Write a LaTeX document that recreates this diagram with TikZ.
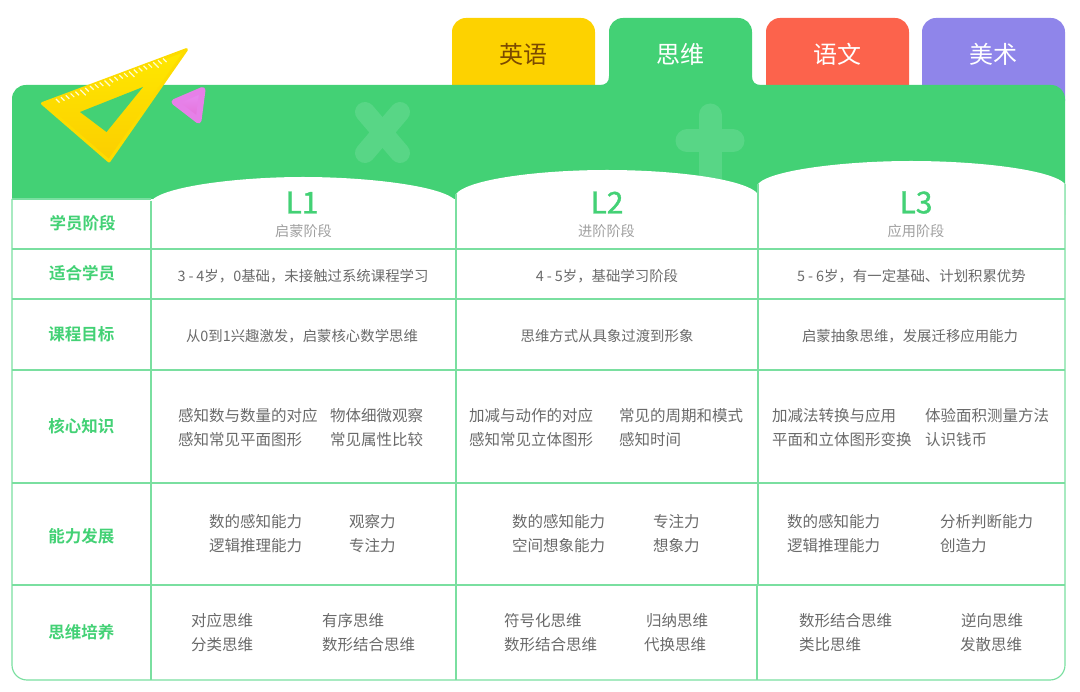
\documentclass[tikz,border=0pt]{standalone}
\usepackage{fontspec}
\setmainfont{Noto Sans CJK SC}[BoldFont={* Bold}]
\usepackage{xcolor}
\usetikzlibrary{calc, positioning}
\definecolor{mainGreen}{HTML}{43D175}
\definecolor{lineGreen}{HTML}{7ADFA0}
\definecolor{markGreen}{HTML}{58D686}
\definecolor{tabYellow}{HTML}{FDD200}
\definecolor{tabRed}{HTML}{FC634C}
\definecolor{tabPurple}{HTML}{8F85EA}
\definecolor{tabBrown}{HTML}{7B4A00}
\definecolor{bodyGray}{HTML}{6A6A6A}
\definecolor{subGray}{HTML}{A0A0A0}
\definecolor{rulerTop}{HTML}{FFE800}
\definecolor{rulerLow}{HTML}{FBCE00}
\definecolor{rulerMid}{HTML}{FDDC00}
\definecolor{tickYellow}{HTML}{FFFBD0}
\definecolor{pinkTop}{HTML}{E88EF4}
\definecolor{pinkLow}{HTML}{E46ED6}
\definecolor{pinkMid}{HTML}{E680E8}
\newcommand{\dashgap}{\kern3pt-\kern3pt}
\tikzset{
  tabbox/.style={rounded corners=14pt},
  tabtext/.style={font=\fontsize{24}{28}\selectfont, inner sep=0pt},
  rowtitle/.style={font=\bfseries\fontsize{16.5}{20}\selectfont, text=mainGreen, inner sep=0pt},
  leveltitle/.style={font=\addfontfeature{FakeBold=1.2}\fontsize{30}{34}\selectfont, text=mainGreen, inner sep=0pt},
  levelsub/.style={font=\fontsize{14.2}{18}\selectfont, text=subGray, inner sep=0pt},
  celltext/.style={font=\fontsize{14.4}{18}\selectfont, text=bodyGray, inner sep=0pt, yshift=-0.7pt},
  itemtext/.style={celltext, font=\fontsize{15.5}{18}\selectfont, anchor=west},
  gridline/.style={draw=lineGreen, line width=1.15pt}
}
\begin{document}
\begin{tikzpicture}[x=1pt, y=-1pt]
\useasboundingbox (0,0) rectangle (1080,692);

% tabs
\fill[tabYellow, tabbox] (452,115) rectangle (595,18);
\fill[tabRed, tabbox] (766,115) rectangle (909,18);
\fill[tabPurple, tabbox] (922,115) rectangle (1065,18);

% green header with the raised tab
\fill[mainGreen] (12,215) -- (12,99) .. controls (12,91) and (18,85) .. (26,85)
  -- (600,85) .. controls (606,85) and (609,82) .. (609,76) -- (609,32)
  .. controls (609,24) and (615,18) .. (623,18) -- (738,18)
  .. controls (746,18) and (752,24) .. (752,32) -- (752,76)
  .. controls (752,82) and (755,85) .. (761,85) -- (1051,85)
  .. controls (1059,85) and (1065,91) .. (1065,99) -- (1065,215) -- cycle;

\node (english) [tabtext, text=tabBrown] at (523,54) {英语};
\node (thinking) [tabtext, text=white] at (680.5,54) {思维};
\node (chinese) [tabtext, text=white] at (837.5,54) {语文};
\node (art) [tabtext, text=white] at (993,54) {美术};

% marks in the header
\draw[markGreen, line width=20pt, line cap=round] (365,112) -- (400,153) (400,112) -- (365,153);
\draw[markGreen, line width=23pt, line cap=round] (687,141) -- (733,141) (710,115) -- (710,180);

% ruler
\draw[draw=rulerMid, line width=3pt, line join=round, top color=rulerTop, bottom color=rulerLow]
  (42.5,103.5) -- (186.5,49.6) -- (109,161) -- cycle;
\fill[mainGreen] (80,112) -- (143,87) -- (106.5,132) -- cycle;
\coordinate (tickA) at (56,99);
\coordinate (tickB) at (163,58.5);
\foreach \i in {0,...,22}{
  \pgfmathsetmacro{\ticklen}{(mod(\i,5)==0 && \i>0) ? 5.5 : 3.6}
  \draw[tickYellow, line width=1.2pt] ($(tickA)!\i/22!(tickB)$) -- ++(\ticklen,\ticklen);
}

% small triangle
\draw[draw=pinkMid, line width=6pt, line join=round, top color=pinkTop, bottom color=pinkLow]
  (174.5,102) -- (202.5,90) -- (198.5,120.5) -- cycle;

% table body
\fill[white] (12,199) rectangle (1065,249);
\fill[white] (151,249) -- (151,201)
  .. controls (164,186) and (240,177) .. (303,177) .. controls (368,177) and (444,186) .. (456,201) -- (456,249);
\fill[white] (456,249) -- (456,194)
  .. controls (468,179) and (540,170) .. (607,170) .. controls (675,170) and (746,179) .. (758,194) -- (758,249);
\fill[white] (758,249) -- (758,184)
  .. controls (770,170) and (845,161) .. (911,161) .. controls (980,161) and (1053,170) .. (1065,184) -- (1065,249);
\draw[gridline, rounded corners=15pt] (12,199) -- (12,680) -- (1065,680) -- (1065,184);
\draw[gridline] (12,199) -- (151,199);
\foreach \y in {249,299,370,483,585}{
  \draw[gridline] (12,\y) -- (1065,\y);
}
\draw[gridline] (151,201) -- (151,680);
\draw[gridline] (456,194) -- (456,680);
\draw[gridline] (758,184) -- (758,585) (757,585) -- (757,680);

% left column
\node (stage) [rowtitle] at (82.5,223) {学员阶段};
\node (fit) [rowtitle] at (82,273) {适合学员};
\node (goal) [rowtitle] at (81.5,334) {课程目标};
\node (know) [rowtitle] at (81.5,426) {核心知识};
\node (ability) [rowtitle] at (81.5,536) {能力发展};
\node (train) [rowtitle] at (81.5,632) {思维培养};

% level heads
\node (L1) [leveltitle] at (302,202.5) {L1};
\node (L1sub) [levelsub] at (303.5,231) {启蒙阶段};
\node (L2) [leveltitle] at (607,202.5) {L2};
\node (L2sub) [levelsub] at (606.5,231) {进阶阶段};
\node (L3) [leveltitle] at (916,202.5) {L3};
\node (L3sub) [levelsub] at (916,231) {应用阶段};

% single line rows
\node (fitA) [celltext] at (303,275) {3\dashgap 4岁，0基础，未接触过系统课程学习};
\node (fitB) [celltext] at (607,275) {4\dashgap 5岁，基础学习阶段};
\node (fitC) [celltext] at (911.5,275) {5\dashgap 6岁，有一定基础、计划积累优势};
\node (goalA) [celltext] at (302,335) {从0到1兴趣激发，启蒙核心数学思维};
\node (goalB) [celltext] at (607,335) {思维方式从具象过渡到形象};
\node (goalC) [celltext] at (910,335) {启蒙抽象思维，发展迁移应用能力};

% core knowledge
\node (knowA) [itemtext] at (178,415) {感知数与数量的对应};
\node (knowB) [itemtext] at (330,415) {物体细微观察};
\node (knowC) [itemtext] at (178,439) {感知常见平面图形};
\node (knowD) [itemtext] at (330,439) {常见属性比较};
\node (knowE) [itemtext] at (469,415) {加减与动作的对应};
\node (knowF) [itemtext] at (619,415) {常见的周期和模式};
\node (knowG) [itemtext] at (469,439) {感知常见立体图形};
\node (knowH) [itemtext] at (619,439) {感知时间};
\node (knowI) [itemtext] at (772,415) {加减法转换与应用};
\node (knowJ) [itemtext] at (925,415) {体验面积测量方法};
\node (knowK) [itemtext] at (772,439) {平面和立体图形变换};
\node (knowL) [itemtext] at (925,439) {认识钱币};

% ability
\node (abilA) [itemtext] at (209,521) {数的感知能力};
\node (abilB) [itemtext] at (349,521) {观察力};
\node (abilC) [itemtext] at (209,545) {逻辑推理能力};
\node (abilD) [itemtext] at (349,545) {专注力};
\node (abilE) [itemtext] at (512,521) {数的感知能力};
\node (abilF) [itemtext] at (653,521) {专注力};
\node (abilG) [itemtext] at (512,545) {空间想象能力};
\node (abilH) [itemtext] at (653,545) {想象力};
\node (abilI) [itemtext] at (787,521) {数的感知能力};
\node (abilJ) [itemtext] at (940,521) {分析判断能力};
\node (abilK) [itemtext] at (787,545) {逻辑推理能力};
\node (abilL) [itemtext] at (940,545) {创造力};

% thinking
\node (trainA) [itemtext] at (191,620) {对应思维};
\node (trainB) [itemtext] at (322,620) {有序思维};
\node (trainC) [itemtext] at (191,644) {分类思维};
\node (trainD) [itemtext] at (322,644) {数形结合思维};
\node (trainE) [itemtext] at (504,620) {符号化思维};
\node (trainF) [itemtext] at (646,620) {归纳思维};
\node (trainG) [itemtext] at (504,644) {数形结合思维};
\node (trainH) [itemtext] at (644,644) {代换思维};
\node (trainI) [itemtext] at (799,620) {数形结合思维};
\node (trainJ) [itemtext] at (961,620) {逆向思维};
\node (trainK) [itemtext] at (799,644) {类比思维};
\node (trainL) [itemtext] at (960,644) {发散思维};
\end{tikzpicture}
\end{document}
